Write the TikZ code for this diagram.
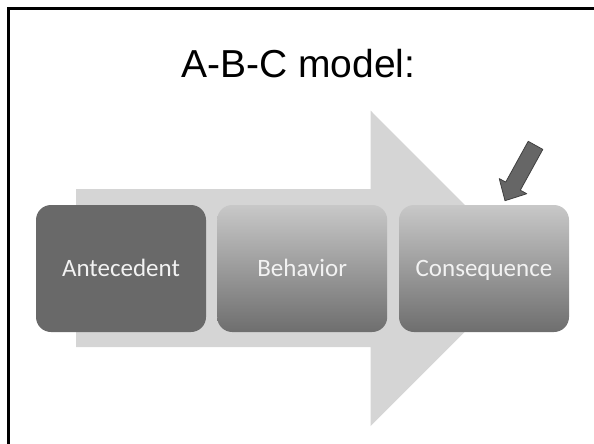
\documentclass[tikz,border=0pt]{standalone}
\usepackage{tikz}
\usepackage{fontspec}
\newfontfamily\titlefont{Liberation Sans}
\newfontfamily\boxfont{Carlito}
\definecolor{arrowgray}{HTML}{D5D5D5}
\definecolor{darkbox}{HTML}{696969}
\definecolor{boxtop}{HTML}{C8C8C8}
\definecolor{boxbottom}{HTML}{6E6E6E}
\definecolor{pointergray}{HTML}{666666}

\begin{document}
\begin{tikzpicture}[x=1pt,y=-1pt]

\tikzstyle{stage}=[rectangle,draw=none,rounded corners = 15pt, minimum width=170pt, minimum height=127pt, inner sep=0pt, text height=18pt, text depth=2pt, text=white!95!black, font=\boxfont\fontsize{25}{29}\selectfont]
\tikzstyle{stage1}=[stage,fill=darkbox]
\tikzstyle{stage2}=[stage,top color=boxtop,bottom color=boxbottom]

\useasboundingbox (0,0) rectangle (594,444);
\draw[line width=3pt] (594,8.5) -- (8.5,8.5) -- (8.5,444);

\node[inner sep=0pt,font=\titlefont\fontsize{39}{44}\selectfont] (title) at (298.5,63.7) {A-B-C model:};

% big background arrow
\fill[arrowgray] (76,189) -- (370.7,189) -- (370.7,110.7) -- (528,268.4) -- (370.7,426) -- (370.7,347) -- (76,347) -- cycle;

\node[stage1] (antecedent) at (121,268.5) {Antecedent};
\node[stage2] (behavior) at (302.2,268.5) {Behavior};
\node[stage2] (consequence) at (484,268.5) {Consequence};

% pointer
\filldraw[draw=black!75,fill=pointergray,line width=0.8pt,line join=round] (528.2,141.3) -- (542.8,149.4) -- (520.3,190.2) -- (526.75,193.74) -- (505,200.7) -- (499.25,178.6) -- (505.7,182.1) -- cycle;
\end{tikzpicture}
\end{document}
